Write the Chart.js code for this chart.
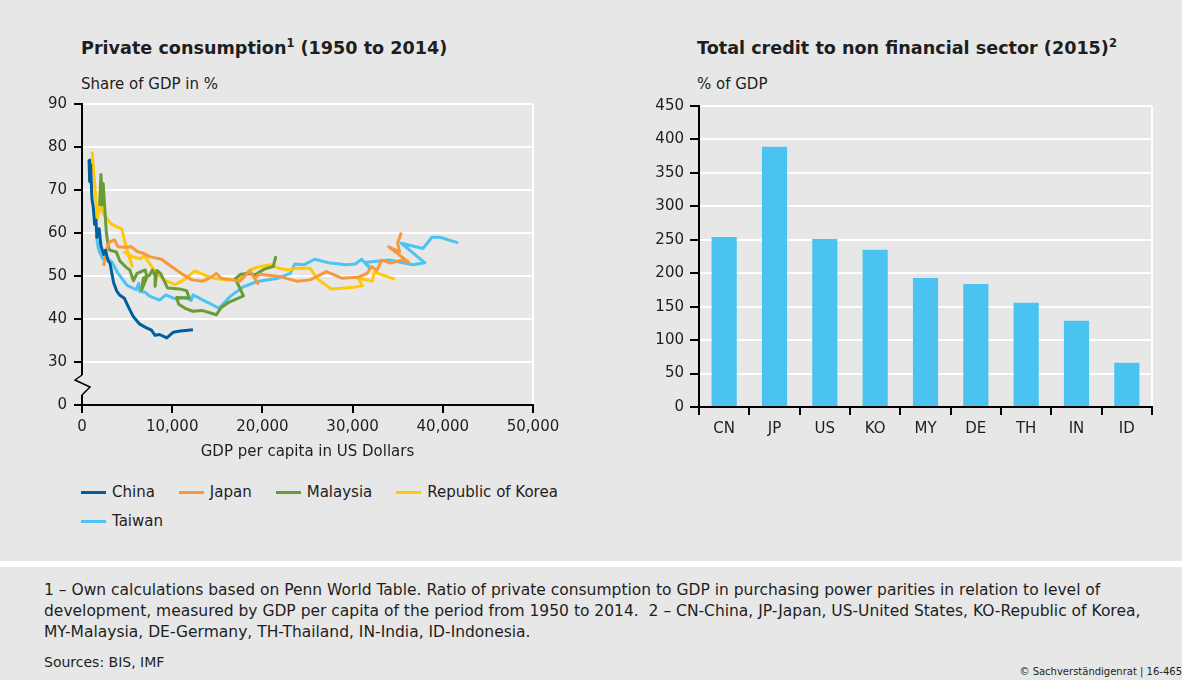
<!DOCTYPE html>
<html>
<head>
<meta charset="utf-8">
<script src="https://cdn.jsdelivr.net/npm/chart.js@4.4.1/dist/chart.umd.min.js"></script>
<style>
  html, body { margin: 0; padding: 0; }
  body { width: 1182px; height: 680px; background: #fff; position: relative; overflow: hidden;
         font-family: "DejaVu Sans", Verdana, sans-serif; color: #1e1e1e; }
  .panel { position: absolute; left: 0; width: 1182px; background: #e7e7e7; }
  #top { top: 0; height: 561px; }
  #bottom { top: 567px; height: 113px; }
  .title { position: absolute; top: 38px; font-weight: bold; font-size: 17.6px; white-space: nowrap; }
  .title sup { font-size: 11.5px; vertical-align: 7px; line-height: 0; }
  .unit { position: absolute; top: 75px; font-size: 15px; }
  canvas { position: absolute; top: 0; }
  #legend { position: absolute; left: 81px; top: 482px; width: 510px; display: flex; flex-wrap: wrap;
            font-size: 15px; row-gap: 9px; }
  .item { display: flex; align-items: center; margin-right: 24px; height: 20px; white-space: nowrap; }
  .item i { display: inline-block; width: 25px; height: 3px; margin-right: 6px; }
  .note { position: absolute; left: 44px; top: 580px; font-size: 15.5px; line-height: 21px; white-space: nowrap; }
  .src { position: absolute; left: 44px; top: 654px; font-size: 14px; }
  .copy { position: absolute; right: 0; top: 666px; font-size: 10px; }
</style>
</head>
<body>
<div class="panel" id="top"></div>
<div class="panel" id="bottom"></div>

<div class="title" style="left:81px">Private consumption<sup>1</sup> (1950 to 2014)</div>
<div class="unit" style="left:81px">Share of GDP in %</div>
<div class="title" style="left:697px">Total credit to non financial sector (2015)<sup>2</sup></div>
<div class="unit" style="left:697px">% of GDP</div>

<canvas id="consumption" width="600" height="470" style="left:0"></canvas>
<canvas id="credit" width="562" height="470" style="left:620px"></canvas>
<div id="legend"></div>

<div class="note">1 – Own calculations based on Penn World Table. Ratio of private consumption to GDP in purchasing power parities in relation to level of<br>development, measured by GDP per capita of the period from 1950 to 2014.&nbsp; 2 – CN-China, JP-Japan, US-United States, KO-Republic of Korea,<br>MY-Malaysia, DE-Germany, TH-Thailand, IN-India, ID-Indonesia.</div>
<div class="src">Sources: BIS, IMF</div>
<div class="copy">© Sachverständigenrat | 16-465</div>

<script>
// [GDP per capita in US$, private consumption in % of GDP], in time order
const china = [[780,77],[850,72],[950,76],[1100,68],[1250,66],[1400,62],[1550,63],[1650,59],[1900,61],
  [2100,57],[2400,55],[2600,56],[2900,53.5],[3100,53],[3500,48.5],[3850,46.5],[4200,45.5],[4700,44.8],
  [5100,43],[5700,40.5],[6400,38.8],[7100,38],[7700,37.4],[8100,36.2],[8600,36.4],[9400,35.6],
  [10100,36.9],[10900,37.2],[12300,37.5]];
const japan = [[2300,53],[2450,52.7],[2550,55],[3000,57.8],[3600,58.4],[4000,56.8],[4800,56.7],[5500,56.8],
  [6100,55.7],[6800,55.3],[7500,54.5],[8800,53.9],[9900,52.2],[11300,50.2],[12200,49.1],[13400,48.8],
  [14400,49.8],[14900,50.6],[15400,49.5],[16600,49.1],[17500,48.8],[18600,51.2],[19500,48.3],[19100,49.5],
  [19700,50.4],[22000,49.8],[23800,48.8],[25300,49.1],[27100,51],[28800,49.5],[30600,49.7],[31600,50.6],
  [32100,52.2],[32700,51.3],[33200,53.7],[34200,53],[35400,53.7],[36200,53.2],[35000,55.2],[34000,56.8],
  [35200,55.6],[35000,57.6],[35400,60.1]];
const malaysia = [[1950,66.3],[2100,73.6],[2250,68],[2200,66.5],[2350,71.5],[2700,60],[2950,56.5],[3100,56],
  [3800,55.6],[4200,53.5],[4900,52],[5300,51.4],[5700,48.9],[6100,50.6],[7000,51.4],[7200,49.8],[6600,46.7],
  [6800,49.5],[7500,50.2],[7800,51.4],[8200,49.5],[8100,47.6],[8300,51.3],[8700,50.6],[9500,47.2],
  [10800,47],[11600,46.6],[11900,44.8],[10500,45],[10700,43.5],[11500,42.4],[12300,41.8],[13300,42],
  [14900,41],[15400,42.6],[16200,43.8],[17900,45.4],[17000,49.4],[17600,50.4],[18400,50.6],[19200,50.3],
  [20200,51.6],[21200,52.2],[21500,54.6]];
const korea = [[1070,78.9],[1150,78.5],[1300,74],[1500,69],[1700,63.3],[1850,65],[2050,67],[2200,65],
  [2700,63.5],[3300,62],[4000,61.3],[4400,61],[4800,57.5],[5200,54.5],[5550,52.3],[5200,55],[4700,55.5],
  [5600,54.5],[6500,54],[6900,54.8],[7400,53.2],[8100,51],[9200,49],[10300,48],[11400,49.2],[12500,51.2],
  [13600,50.2],[14600,49.5],[16000,49.1],[17500,49.2],[18600,51.4],[19700,52.2],[21000,52.6],[21800,51.8],
  [22900,51.4],[23800,51.8],[25300,51.8],[26000,49.5],[27600,47],[29900,47.3],[31100,47.7],[30600,49.5],
  [32200,48.8],[32400,50.9],[34700,49.2]];
const taiwan = [[1600,59.5],[1800,56.5],[2000,55.3],[2300,54],[2700,54.3],[3300,53.3],[4000,50.6],[5000,47.8],
  [6000,46.8],[6300,48.3],[6400,46.4],[7000,46.2],[7500,45.3],[8600,44.4],[9300,45.6],[10300,44.7],
  [11600,45],[12100,44.3],[12300,45.6],[13800,44],[15200,42.5],[16400,45.2],[17900,47.5],[19400,48.7],
  [21600,49.4],[23100,50.6],[23600,52.8],[24600,52.6],[25800,53.9],[27500,53],[29300,52.6],[30300,52.8],
  [31000,53.9],[31900,51.8],[31500,53.2],[34100,53.7],[36700,52.6],[38000,53.1],[35400,57.6],[37800,56.4],
  [38800,59],[39700,59],[41700,57.7]];

const countryNames = ['China', 'Japan', 'Malaysia', 'Republic of Korea', 'Taiwan'];
const countrySeries = [china, japan, malaysia, korea, taiwan];
const countryColors = ['#005f9e', '#f7983b', '#6a9c34', '#ffc808', '#4dc3f1'];

const creditLabels = ['CN', 'JP', 'US', 'KO', 'MY', 'DE', 'TH', 'IN', 'ID'];
const creditValues = [254, 389, 251, 235, 193, 184, 156, 129, 66];

const bg = '#e7e7e7';
const txt = '#1e1e1e';
const fontFamily = '"DejaVu Sans", Verdana, sans-serif';
const tickFont = { family: fontFamily, size: 15 };

// broken y axis between 0 and 30
const axisBreak = {
  id: 'axisBreak',
  afterDraw(chart) {
    const y = chart.scales.y;
    const ctx = chart.ctx;
    const x0 = chart.chartArea.left;
    const top = y.getPixelForValue(30) + 13;
    const bot = y.getPixelForValue(20) - 10;
    ctx.save();
    ctx.fillStyle = bg;
    ctx.fillRect(x0 - 3, top, 6, bot - top);
    ctx.strokeStyle = '#000';
    ctx.lineWidth = 1.5;
    ctx.beginPath();
    ctx.moveTo(x0, top);
    ctx.lineTo(x0 - 7, top + 5);
    ctx.lineTo(x0 + 8, top + 12);
    ctx.lineTo(x0, bot);
    ctx.stroke();
    ctx.restore();
  }
};

new Chart(document.getElementById('consumption'), {
  type: 'scatter',
  data: {
    datasets: countryNames.map((name, i) => ({
      label: name,
      data: countrySeries[i].map(p => ({ x: p[0], y: p[1] })),
      showLine: true,
      borderColor: countryColors[i],
      backgroundColor: countryColors[i],
      borderWidth: 3,
      pointRadius: 0,
      borderJoinStyle: 'round'
    }))
  },
  options: {
    responsive: false,
    animation: false,
    layout: { padding: { top: 104, right: 67, left: 0, bottom: 0 } },
    plugins: { legend: { display: false }, tooltip: { enabled: false } },
    scales: {
      x: {
        type: 'linear', min: 0, max: 50000,
        ticks: { stepSize: 10000, color: txt, font: tickFont, padding: 5,
                 callback: v => v.toLocaleString('en-US') },
        grid: { color: c => (c.tick && c.tick.value === 50000 ? '#fff' : 'rgba(0,0,0,0)'),
                lineWidth: 2, tickColor: '#000', tickLength: 8 },
        border: { color: '#000', width: 2 },
        title: { display: true, text: 'GDP per capita in US Dollars', color: txt,
                 font: { family: fontFamily, size: 15 }, padding: { top: 0, bottom: 9 } },
        afterFit: s => { s.height = 65; }
      },
      y: {
        min: 20, max: 90,
        ticks: { stepSize: 10, color: txt, font: tickFont, padding: 7,
                 callback: v => (v === 20 ? '0' : v) },
        grid: { color: '#fff', lineWidth: 2, tickColor: '#000', tickLength: 8 },
        border: { color: '#000', width: 2 },
        afterFit: s => { s.width = 82; }
      }
    }
  },
  plugins: [axisBreak]
});

// legend built from the series
const legend = document.getElementById('legend');
countryNames.forEach((name, i) => {
  const el = document.createElement('div');
  el.className = 'item';
  el.innerHTML = '<i style="background:' + countryColors[i] + '"></i>' + name;
  legend.appendChild(el);
});

new Chart(document.getElementById('credit'), {
  type: 'bar',
  data: {
    labels: creditLabels,
    datasets: [{
      label: '% of GDP',
      data: creditValues,
      backgroundColor: '#4bc3f1',
      barPercentage: 0.5,
      categoryPercentage: 1
    }]
  },
  options: {
    responsive: false,
    animation: false,
    layout: { padding: { top: 106, right: 30, left: 0, bottom: 0 } },
    plugins: { legend: { display: false }, tooltip: { enabled: false } },
    scales: {
      x: {
        ticks: { color: txt, font: tickFont, padding: 5 },
        grid: { color: c => (c.type === 'tick' ? 'rgba(0,0,0,0)' : '#fff'),
                lineWidth: 2, tickColor: '#000', tickLength: 8 },
        border: { color: '#000', width: 2 },
        afterFit: s => { s.height = 63; }
      },
      y: {
        min: 0, max: 450,
        ticks: { stepSize: 50, color: txt, font: tickFont, padding: 6 },
        grid: { color: '#fff', lineWidth: 2, tickColor: '#000', tickLength: 9 },
        border: { color: '#000', width: 2 },
        afterFit: s => { s.width = 79; }
      }
    }
  }
});
</script>
</body>
</html>
